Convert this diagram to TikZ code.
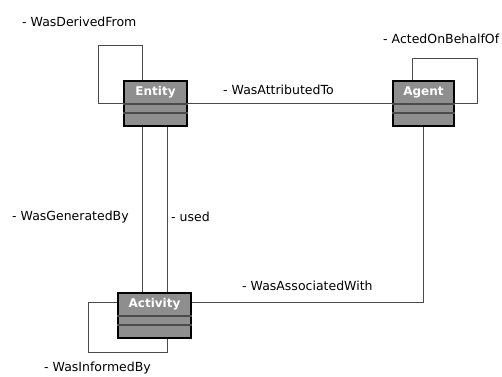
\documentclass[tikz,border=0pt]{standalone}
\usepackage{fontspec}
\setmainfont{DejaVu Sans}
\usetikzlibrary{positioning}
\definecolor{classfill}{RGB}{142,142,142}
\definecolor{assoc}{RGB}{75,75,75}

\tikzset{
  classbox/.style={draw=black, line width=2pt, fill=classfill, minimum height=45pt, inner sep=0pt},
  classname/.style={text=white, font=\bfseries\fontsize{12}{14}\selectfont, inner sep=0pt},
  rolelabel/.style={anchor=west, inner sep=0pt, font=\fontsize{12.5}{14}\selectfont},
  link/.style={draw=assoc, line width=1pt},
}
% two empty compartments under the class name
\newcommand{\compartments}[1]{
  \draw[assoc, line width=1.3pt] ([yshift=-24pt]#1.north west) -- ([yshift=-24pt]#1.north east);
  \draw[assoc, line width=1.3pt] ([yshift=-33pt]#1.north west) -- ([yshift=-33pt]#1.north east);
}

\begin{document}
\begin{tikzpicture}[x=1pt, y=1pt]
    \useasboundingbox (0,0) rectangle (502,-376);

    % classes
    \node[classbox, minimum width=63pt] (entity) at (155.5,-103.5) {};
    \node[classname] (entityname) at ([yshift=-12.5]entity.north) {Entity};
    \compartments{entity}
    \node[classbox, minimum width=61pt] (agent) at (423.5,-103.5) {};
    \node[classname] (agentname) at ([yshift=-12.5]agent.north) {Agent};
    \compartments{agent}
    \node[classbox, minimum width=73pt] (activity) at (154.5,-315.5) {};
    \node[classname] (activityname) at ([yshift=-12.5]activity.north) {Activity};
    \compartments{activity}

    % corners of the self loops
    \coordinate (entityloop) at ([xshift=-25, yshift=35]entity.north west);
    \coordinate (agentloop) at ([xshift=22, yshift=22]agent.north east);
    \coordinate (activityloop) at ([xshift=-29, yshift=-13]activity.south west);

    % associations
    \draw[link] ([xshift=-13.5]entity.north) |- (entityloop) |- (entity.west);
    \draw[link] ([xshift=-11.5]agent.north) |- (agentloop) |- (agent.east);
    \draw[link] (entity.east) -- (agent.west);
    \draw[link] ([xshift=-13.5]entity.south) -- ([xshift=-13.5]entity.south |- activity.north);
    \draw[link] ([xshift=11.5]entity.south) -- ([xshift=11.5]entity.south |- activity.north);
    \draw[link] (agent.south) |- ([yshift=13.5]activity.east);
    \draw[link] ([yshift=13.5]activity.west) -| (activityloop) -| ([xshift=12.5]activity.south);

    % role names
    \node[rolelabel] (derivedlbl) at (22,-22) {- WasDerivedFrom};
    \node[rolelabel] (behalflbl) at (383,-39) {- ActedOnBehalfOf};
    \node[rolelabel] (attributedlbl) at (223,-90) {- WasAttributedTo};
    \node[rolelabel] (generatedlbl) at (12,-217) {- WasGeneratedBy};
    \node[rolelabel] (usedlbl) at (171,-217) {- used};
    \node[rolelabel] (associatedlbl) at (242,-286) {- WasAssociatedWith};
    \node[rolelabel] (informedlbl) at (44,-368) {- WasInformedBy};
\end{tikzpicture}
\end{document}
